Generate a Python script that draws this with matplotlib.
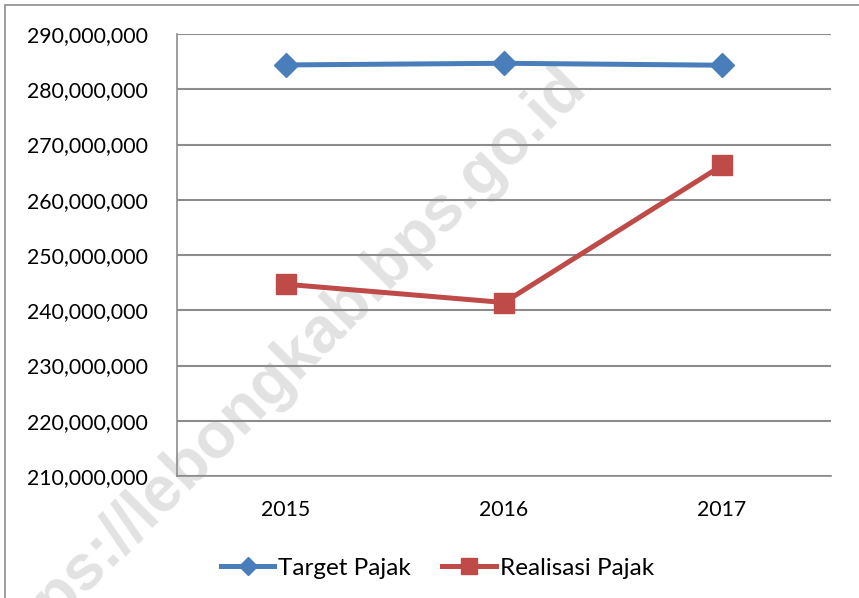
import matplotlib.pyplot as plt
from matplotlib.patches import Rectangle

years = ['2015', '2016', '2017']
target = [284400000, 284700000, 284350000]
realisasi = [244700000, 241400000, 266200000]
yticks = list(range(210000000, 290000001, 10000000))

plt.rcParams['font.family'] = ['Lato', 'DejaVu Sans']

fig = plt.figure(figsize=(8.59, 5.98), dpi=100)
ax = fig.add_axes([177 / 859, 1 - 476 / 598, (831 - 177) / 859, (476 - 34) / 598])
ax.set_facecolor('none')

x = range(len(years))
ax.plot(x, target, color='#4a7ebb', lw=3.6, marker='D', ms=12, label='Target Pajak', zorder=3)
ax.plot(x, realisasi, color='#be4b48', lw=3.6, marker='s', ms=14, label='Realisasi Pajak', zorder=3)

ax.set_xlim(-0.5, 2.5)
ax.set_ylim(210000000, 290000000)
ax.set_yticks(yticks)
ax.set_yticklabels([f'{v:,}' for v in yticks])
ax.set_xticks(list(x))
ax.set_xticklabels(years)
ax.tick_params(axis='both', length=0, labelsize=15.3, colors='black')
ax.tick_params(axis='y', pad=21)
ax.tick_params(axis='x', pad=17)
ax.grid(axis='y', color='#8c8c8c', lw=1.5)
for s in ['top', 'right']:
    ax.spines[s].set_visible(False)
for s in ['left', 'bottom']:
    ax.spines[s].set_color('#8c8c8c')
    ax.spines[s].set_linewidth(1.2)

ax.legend(loc='upper center', bbox_to_anchor=(0.398, -0.135), ncol=2, frameon=False,
          fontsize=17.5, handlelength=2.2, columnspacing=1.3, handletextpad=0.15,
          markerscale=0.8)

# watermark, behind the axes
fig.text(0.327, 0.38, 'https://lebongkab.bps.go.id', rotation=45, fontsize=46,
         fontweight='bold', color='#e2e2e2', ha='center', va='center',
         family=['Liberation Sans', 'DejaVu Sans'], zorder=-1)

fig.patches.append(Rectangle((5 / 859, -0.1), 1.2, 1.1 - 5 / 598, transform=fig.transFigure,
                             fill=False, edgecolor='#8c8c8c', lw=1.2))

fig.savefig('out.png', dpi=100)
